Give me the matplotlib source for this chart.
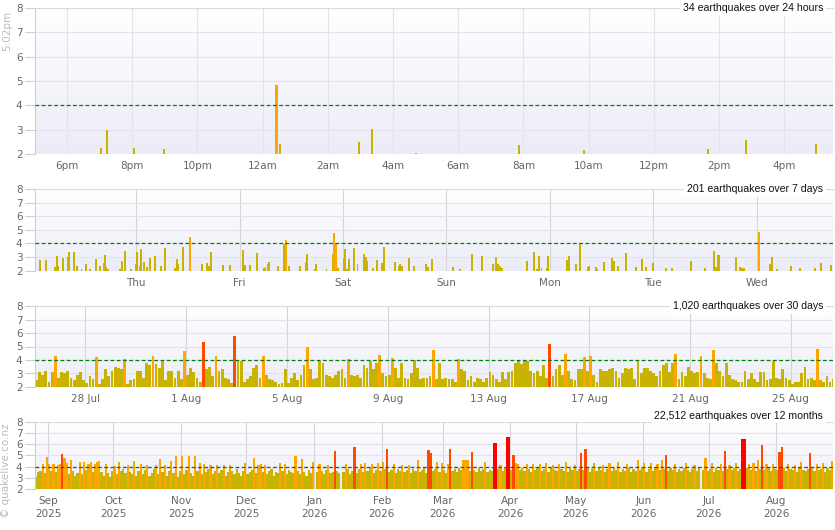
import numpy as np
import matplotlib
matplotlib.use('Agg')
import matplotlib.pyplot as plt
from matplotlib.colors import LinearSegmentedColormap
from datetime import date, timedelta

# ---- 24 hours: event time (hour of clock, 24 = midnight) and magnitude
t24 = [19.04, 19.23, 20.06, 20.98, 24.41, 24.46, 24.54, 26.96, 27.36, 28.71,
       31.87, 33.86, 37.67, 38.83, 40.98]
m24 = [2.25, 3.0, 2.25, 2.2, 4.85, 4.85, 2.4, 2.5, 3.03, 2.05,
       2.37, 2.16, 2.2, 2.58, 2.41]
hour_labels = ['6pm', '8pm', '10pm', '12am', '2am', '4am', '6am', '8am',
               '10am', '12pm', '2pm', '4pm']

# ---- 7 days: event time (days since window start) and magnitude
t7 = [0.05, 0.11, 0.19, 0.21, 0.22, 0.27, 0.32, 0.33, 0.38, 0.41,
      0.45, 0.49, 0.53, 0.59, 0.63, 0.67, 0.68, 0.69, 0.71, 0.82,
      0.84, 0.87, 0.93, 0.98, 0.99, 1.02, 1.03, 1.05, 1.08, 1.11,
      1.16, 1.22, 1.26, 1.35, 1.37, 1.38, 1.43, 1.50, 1.62, 1.66,
      1.68, 1.70, 1.82, 1.89, 2.01, 2.03, 2.08, 2.15, 2.22, 2.23,
      2.25, 2.26, 2.35, 2.41, 2.43, 2.46, 2.56, 2.62, 2.63, 2.71,
      2.72, 2.82, 2.88, 2.89, 2.91, 2.93, 2.99, 3.00, 3.02, 3.04,
      3.09, 3.12, 3.18, 3.20, 3.21, 3.27, 3.31, 3.36, 3.38, 3.48,
      3.52, 3.53, 3.55, 3.62, 3.67, 3.78, 3.80, 3.84, 4.04, 4.11,
      4.23, 4.32, 4.43, 4.46, 4.48, 4.50, 4.52, 4.76, 4.83, 4.86,
      4.88, 4.90, 4.95, 4.96, 5.15, 5.17, 5.23, 5.27, 5.35, 5.36,
      5.43, 5.44, 5.50, 5.58, 5.60, 5.64, 5.72, 5.81, 5.87, 5.91,
      5.98, 6.10, 6.16, 6.35, 6.48, 6.57, 6.59, 6.61, 6.62, 6.78,
      6.82, 6.84, 6.86, 7.00, 7.11, 7.13, 7.18, 7.31, 7.40, 7.55,
      7.60, 7.70]
m7 = [2.78, 2.78, 2.25, 3.08, 2.34, 2.93, 2.98, 3.37, 3.37, 2.34,
      2.10, 2.49, 2.15, 2.86, 2.34, 2.59, 3.15, 2.25, 2.15, 2.15,
      2.73, 3.45, 2.15, 2.51, 3.37, 2.34, 3.60, 2.64, 2.25, 2.93,
      3.08, 2.34, 3.64, 2.20, 2.86, 2.49, 3.74, 4.48, 2.49, 2.56,
      2.34, 3.37, 2.42, 2.42, 3.52, 2.42, 2.42, 3.30, 2.20, 2.25,
      2.49, 2.64, 2.34, 3.94, 4.25, 2.34, 2.34, 2.64, 3.22, 2.15,
      2.49, 2.15, 3.22, 4.77, 4.03, 2.20, 2.93, 3.60, 2.15, 2.86,
      3.67, 2.49, 3.22, 3.00, 2.73, 2.20, 2.78, 2.56, 3.74, 2.64,
      2.34, 2.49, 2.34, 2.93, 2.34, 2.49, 2.27, 2.86, 2.27, 2.10,
      3.22, 3.08, 2.49, 3.00, 2.49, 2.34, 2.20, 2.71, 3.37, 2.15,
      3.08, 2.20, 2.20, 3.08, 2.78, 3.08, 2.49, 3.94, 2.27, 2.34,
      2.27, 2.15, 2.64, 2.93, 2.71, 2.34, 3.30, 2.27, 2.86, 2.27,
      2.56, 2.20, 2.20, 2.71, 2.20, 3.45, 2.27, 3.15, 3.15, 3.00,
      2.27, 2.20, 2.20, 4.84, 2.49, 3.00, 2.10, 2.34, 2.20, 2.20,
      2.56, 2.42]
day_names = ['Thu', 'Fri', 'Sat', 'Sun', 'Mon', 'Tue', 'Wed']

# ---- 30 days: largest magnitude in each 3-hour block from 26 Jul 2026
m30 = [2.5, 3.1, 2.9, 3.2, 2.4, 3.1, 4.3, 2.7, 3.1, 3.0,
       3.2, 2.7, 2.5, 2.9, 3.1, 2.5, 2.3, 2.8, 2.6, 4.2,
       2.2, 2.6, 3.3, 2.8, 3.2, 3.5, 3.4, 3.3, 4.1, 2.2,
       2.5, 2.6, 3.2, 3.2, 2.7, 3.8, 3.6, 4.3, 3.7, 3.4,
       3.9, 2.5, 3.2, 3.2, 2.7, 3.2, 2.6, 4.7, 2.9, 3.4,
       3.1, 2.7, 2.4, 5.3, 3.3, 3.5, 2.8, 4.3, 3.2, 3.3,
       2.7, 2.6, 2.3, 5.8, 3.95, 3.95, 2.4, 2.6, 2.8, 3.4,
       3.6, 2.7, 4.3, 2.9, 2.6, 2.5, 2.4, 2.2, 2.3, 3.3,
       2.3, 2.7, 3.0, 2.5, 2.9, 3.6, 4.95, 3.3, 2.6, 2.7,
       3.95, 3.8, 2.9, 2.8, 2.7, 2.9, 3.2, 3.3, 2.7, 4.1,
       2.9, 2.8, 2.9, 2.7, 3.6, 3.4, 3.9, 3.3, 3.8, 4.4,
       3.0, 2.8, 2.9, 4.15, 3.4, 2.7, 3.8, 2.7, 2.6, 3.0,
       3.97, 3.4, 2.6, 2.7, 2.7, 2.8, 4.75, 2.6, 3.8, 2.6,
       2.7, 2.6, 2.6, 2.4, 4.1, 3.3, 3.2, 2.5, 2.8, 2.4,
       2.7, 2.6, 2.4, 2.7, 3.1, 2.9, 2.6, 2.4, 3.1, 2.6,
       3.1, 3.2, 3.8, 3.9, 3.7, 3.9, 3.9, 3.2, 3.0, 3.2,
       2.8, 3.6, 2.7, 5.15, 2.8, 3.3, 3.6, 2.9, 4.45, 3.15,
       2.6, 2.5, 3.3, 3.3, 4.2, 3.2, 4.3, 2.9, 2.4, 3.3,
       3.2, 3.2, 3.3, 3.4, 3.2, 2.7, 3.0, 3.4, 3.3, 3.4,
       2.6, 3.98, 3.0, 3.4, 3.4, 3.2, 3.0, 2.8, 3.2, 3.6,
       3.8, 3.1, 3.8, 4.45, 2.6, 3.1, 2.8, 3.5, 3.2, 3.0,
       3.1, 4.3, 3.0, 2.7, 2.6, 4.77, 3.8, 3.2, 2.8, 3.8,
       2.9, 2.6, 2.5, 2.4, 2.4, 3.2, 2.6, 3.0, 2.6, 2.4,
       3.1, 3.1, 2.5, 2.6, 3.95, 2.7, 2.6, 3.3, 2.7, 2.5,
       2.2, 2.4, 2.4, 3.0, 3.5, 2.6, 2.7, 2.5, 4.8, 2.5,
       2.4, 2.8, 2.4, 2.6]
start30 = date(2026, 7, 26)

# ---- 12 months: largest magnitude each day from 26 Aug 2025 (0 = no data)
m365 = [3.1, 3.5, 3.6, 4.25, 3.4, 4.85, 4.25, 3.6, 4.2, 3.5,
        4.15, 4.2, 5.15, 4.75, 4.35, 3.3, 4.6, 3.6, 3.2, 3.4,
        4.45, 3.3, 4.4, 3.7, 4.25, 4.45, 3.5, 4.25, 4.4, 4.5,
        3.5, 3.2, 4.2, 3.4, 3.1, 3.6, 4.05, 3.3, 4.45, 3.6,
        3.8, 3.4, 4.1, 3.5, 3.3, 4.5, 3.2, 3.6, 4.25, 3.3,
        3.7, 4.1, 3.2, 3.4, 3.8, 4.15, 3.3, 4.7, 3.5, 4.15,
        3.2, 3.6, 4.5, 3.4, 4.98, 3.1, 3.6, 4.9, 3.3, 3.7,
        4.9, 3.4, 3.2, 4.98, 3.6, 4.35, 3.3, 4.25, 3.5, 3.8,
        4.15, 3.3, 3.6, 4.1, 3.4, 3.7, 4.15, 3.2, 3.5, 4.1,
        3.6, 3.3, 3.8, 3.4, 3.2, 3.6, 4.35, 3.3, 3.5, 3.7,
        4.8, 3.4, 4.15, 4.25, 3.5, 4.15, 3.3, 3.6, 3.8, 3.2,
        3.5, 3.4, 4.35, 3.6, 4.25, 3.3, 3.7, 3.5, 3.4, 4.9,
        3.6, 3.3, 4.65, 3.5, 3.2, 3.7, 3.4, 4.4, 0, 3.5,
        4.25, 3.6, 3.3, 3.7, 4.15, 3.4, 3.5, 5.39, 3.6, 3.4,
        0, 3.5, 4.25, 3.8, 3.3, 3.6, 5.75, 3.4, 3.8, 4.2,
        3.5, 4.35, 3.6, 3.9, 4.2, 3.4, 3.7, 4.3, 3.6, 4.45,
        3.8, 5.57, 3.5, 3.7, 4.25, 3.4, 3.8, 3.6, 4.15, 3.5,
        3.7, 4.1, 3.4, 3.8, 3.6, 4.55, 3.5, 3.7, 3.9, 3.4,
        5.48, 5.24, 3.6, 3.8, 4.45, 3.5, 4.35, 3.7, 3.4, 4.2,
        5.57, 3.6, 3.8, 3.5, 3.9, 3.7, 4.6, 4.55, 4.6, 3.6,
        5.3, 3.7, 3.5, 3.9, 3.6, 3.8, 4.45, 3.5, 3.7, 3.6,
        6.08, 6.08, 3.8, 4.15, 3.6, 3.9, 6.64, 6.64, 3.7, 5.04,
        4.3, 4.25, 3.7, 3.9, 3.6, 4.2, 3.8, 3.5, 4.25, 3.7,
        3.9, 4.2, 3.6, 3.8, 4.3, 3.5, 3.9, 4.15, 3.7, 3.6,
        4.2, 3.8, 3.6, 4.45, 3.5, 3.9, 3.7, 4.1, 3.6, 3.8,
        5.2, 3.7, 5.57, 3.9, 3.5, 3.8, 4.3, 3.6, 3.9, 3.7,
        4.15, 3.5, 3.8, 4.35, 3.6, 3.9, 3.7, 4.4, 3.5, 3.8,
        3.6, 4.2, 3.9, 3.5, 3.8, 3.6, 4.6, 3.7, 3.9, 4.3,
        3.5, 3.8, 4.3, 3.6, 3.9, 4.2, 3.7, 4.6, 3.8, 5.07,
        3.6, 3.9, 3.7, 4.25, 3.5, 3.8, 3.6, 3.9, 4.3, 3.7,
        3.5, 3.8, 4.15, 3.6, 3.9, 0, 3.7, 4.75, 3.6, 3.8,
        4.35, 3.5, 3.9, 3.7, 4.2, 3.6, 5.39, 3.8, 4.15, 3.7,
        3.9, 4.3, 3.6, 3.8, 6.43, 6.43, 3.9, 4.25, 3.7, 4.3,
        3.6, 4.6, 3.8, 5.96, 3.7, 4.2, 3.9, 3.6, 4.25, 3.8,
        3.7, 5.3, 5.72, 3.9, 3.6, 4.2, 3.8, 3.7, 4.15, 3.5,
        3.9, 4.4, 3.7, 3.6, 3.8, 5.18, 3.9, 3.6, 4.2, 3.7,
        3.8, 4.3, 3.5, 3.9, 3.7, 4.5]
start365 = date(2025, 8, 26)

titles = ['34 earthquakes over 24 hours', '201 earthquakes over 7 days',
          '1,020 earthquakes over 30 days', '22,512 earthquakes over 12 months']


def qcol(m):
    if m >= 6:
        return '#ff0000'
    if m >= 5:
        return '#ff4a00'
    if m >= 4:
        return '#ffa500'
    return '#c8b400'


W, H = 835, 530
fig = plt.figure(figsize=(W / 100, H / 100), dpi=100)
bg = LinearSegmentedColormap.from_list('bg', ['#ececf8', '#ffffff'])
grad = np.linspace(0, 1, 100).reshape(-1, 1)


def panel(top, bottom, xlim):
    ax = fig.add_axes([35 / W, 1 - bottom / H, 798 / W, (bottom - top) / H])
    ax.imshow(grad, extent=[0, 1, 0, 1], transform=ax.transAxes, cmap=bg,
              aspect='auto', origin='lower', zorder=0)
    ax.set_xlim(*xlim)
    ax.set_ylim(2, 8)
    ax.set_yticks(range(2, 9))
    ax.grid(True, color='#e3e3ea', lw=0.8)
    ax.set_axisbelow(True)
    ax.spines['right'].set_visible(False)
    ax.spines['bottom'].set_visible(False)
    ax.spines['left'].set_color('#c4d2da')
    ax.spines['top'].set_color('#d6dde2')
    ax.tick_params(axis='y', length=7, color='#c4d2da', labelcolor='#666666',
                   labelsize=7.5, pad=2)
    ax.tick_params(axis='x', length=0, labelcolor='#666666', labelsize=7.5, pad=5)
    ax.axhline(4, color='#008000', ls=(0, (3, 2)), lw=0.9, zorder=3)
    return ax


def title(ax, s, dy=0.0):
    ax.text(0.9875, 1 + dy, s, transform=ax.transAxes, ha='right', va='center',
            fontsize=7.6, family='Liberation Sans', color='#111111', zorder=5,
            bbox=dict(fc='white', ec='none', pad=1.8))


# 24 hours
ax1 = panel(8, 154, (17.02, 41.5))
ax1.bar(t24, m24, width=0.05, color=[qcol(m) for m in m24], zorder=2)
ax1.set_xticks(np.arange(18, 41, 2))
ax1.set_xticklabels(hour_labels)
title(ax1, titles[0])

# 7 days
ax2 = panel(189, 270.7, (0, 7.72))
ax2.bar(t7, m7, width=0.019, color=[qcol(m) for m in m7], zorder=2)
ax2.set_xticks(0.98 + np.arange(7))
ax2.set_xticklabels(day_names)
ax2.grid(True, axis='x', color='#d4d4dc', lw=0.8)
title(ax2, titles[1])

# 30 days
ax3 = panel(306, 387, (0, 31.67))
x30 = np.arange(len(m30)) / 8
ax3.bar(x30, m30, width=0.11, align='edge', color=[qcol(m) for m in m30], zorder=2)
ticks30 = np.arange(2, 31, 4)
ax3.set_xticks(ticks30)
ax3.set_xticklabels([f'{d.day} {d:%b}' for d in
                     (start30 + timedelta(days=int(k)) for k in ticks30)])
ax3.grid(True, axis='x', color='#d4d4dc', lw=0.8)
title(ax3, titles[2])

# 12 months
ax4 = panel(421.7, 489, (0, 366))
x365 = np.arange(len(m365))
ax4.bar(x365, m365, width=1.0, align='edge', color=[qcol(m) for m in m365],
        lw=0, zorder=2)
months = [date(2025, m, 1) for m in range(9, 13)] + [date(2026, m, 1) for m in range(1, 9)]
ax4.set_xticks([(d - start365).days for d in months])
ax4.set_xticklabels([f'{d:%b}\n{d.year}' for d in months], linespacing=1.35)
ax4.grid(True, axis='x', color='#d4d4dc', lw=0.8)
title(ax4, titles[3], dy=6 / 67.3)

fig.text(7 / W, 1 - 31 / H, '5:02pm', rotation=90, ha='center', va='center',
         fontsize=7.5, color='#bbbbbb')
fig.text(6 / W, 1 - 471 / H, '\u00a9 quakelive.co.nz', rotation=90, ha='center',
         va='center', fontsize=7.5, color='#bbbbbb')

fig.savefig('out.png', dpi=100)
